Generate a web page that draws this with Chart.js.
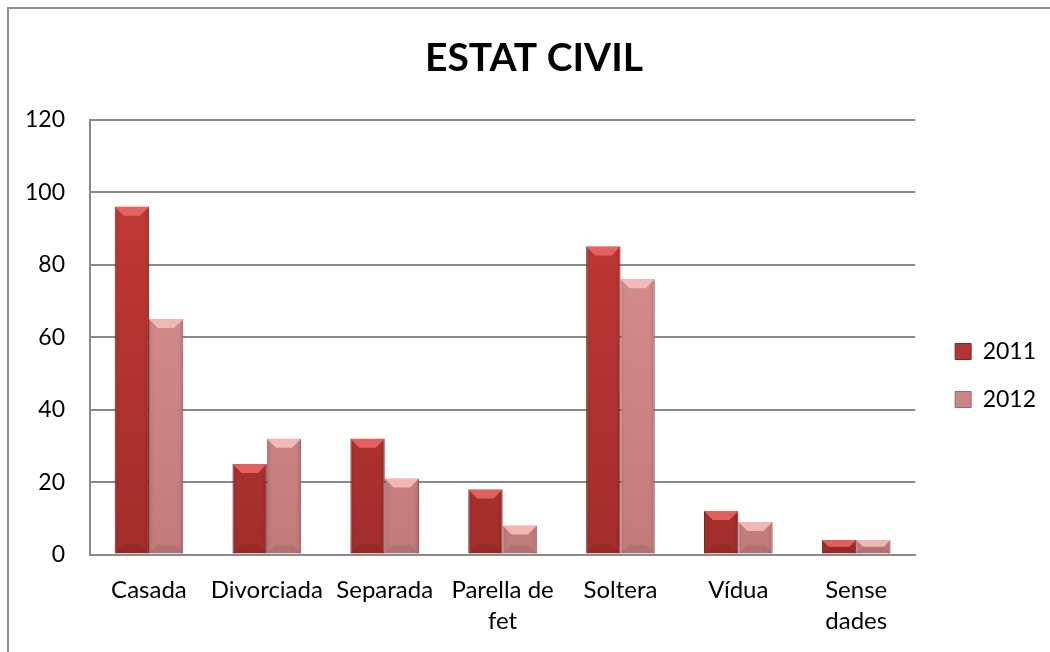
<!DOCTYPE html>
<html>
<head>
<meta charset="utf-8">
<script src="https://cdn.jsdelivr.net/npm/chart.js@4.4.1/dist/chart.umd.min.js"></script>
<style>
  html, body { margin: 0; padding: 0; background: #fff; overflow: hidden; }
  #frame { position: absolute; left: 7px; top: 7px; width: 1100px; height: 700px;
           border-left: 2px solid #8e8e8e; border-top: 2px solid #8e8e8e; }
  #wrap { position: absolute; left: 0; top: 0; width: 1050px; height: 652px; }
</style>
</head>
<body>
<div id="frame"></div>
<div id="wrap"><canvas id="chart"></canvas></div>
<script>
const categories = ['Casada', 'Divorciada', 'Separada', ['Parella de', 'fet'], 'Soltera', 'Vídua', ['Sense', 'dades']];
const values2011 = [96, 25, 32, 18, 85, 12, 4];
const values2012 = [65, 32, 21, 8, 76, 9, 4];
const seriesNames = ['2011', '2012'];
const yTicks = { min: 0, max: 120, step: 20 };

// body gradient (top -> bottom), bevel highlight, outline
const palette = [
  { top: '#c63b39', bottom: '#a22d2b', bevel: '#e86664', edge: '#822422' },
  { top: '#de9393', bottom: '#c27b7b', bevel: '#f5bebe', edge: '#a66767' }
];

function bodyFill(i) {
  return function (c) {
    const ca = c.chart.chartArea;
    if (!ca) return palette[i].top;
    const g = c.chart.ctx.createLinearGradient(0, ca.top, 0, ca.bottom);
    g.addColorStop(0, palette[i].top);
    g.addColorStop(1, palette[i].bottom);
    return g;
  };
}

// simple 3D look on top of each bar, positions taken from the bar elements
const bevel = {
  id: 'bevel',
  afterDatasetsDraw(chart) {
    const ctx = chart.ctx;
    chart.data.datasets.forEach((ds, di) => {
      chart.getDatasetMeta(di).data.forEach(bar => {
        const p = bar.getProps(['x', 'y', 'width', 'base'], true);
        const l = p.x - p.width / 2, r = p.x + p.width / 2, h = p.base - p.y;
        const b = Math.min(9, h / 2);
        ctx.save();
        const g = ctx.createLinearGradient(l, 0, r, 0);
        g.addColorStop(0, 'rgba(0,0,0,0.08)');
        g.addColorStop(0.15, 'rgba(0,0,0,0)');
        g.addColorStop(0.85, 'rgba(0,0,0,0)');
        g.addColorStop(1, 'rgba(0,0,0,0.12)');
        ctx.fillStyle = g;
        ctx.fillRect(l, p.y, p.width, h);
        ctx.beginPath();
        ctx.moveTo(l, p.y); ctx.lineTo(r, p.y);
        ctx.lineTo(r - b, p.y + b); ctx.lineTo(l + b, p.y + b);
        ctx.closePath();
        ctx.fillStyle = palette[di].bevel;
        ctx.globalAlpha = 0.9;
        ctx.fill();
        ctx.beginPath();
        ctx.moveTo(l, p.base); ctx.lineTo(r, p.base);
        ctx.lineTo(r - b, p.base - b); ctx.lineTo(l + b, p.base - b);
        ctx.closePath();
        ctx.fillStyle = 'rgba(0,0,0,0.08)';
        ctx.globalAlpha = 1;
        ctx.fill();
        ctx.restore();
      });
    });
  }
};

new Chart(document.getElementById('chart'), {
  type: 'bar',
  data: {
    labels: categories,
    datasets: [
      { label: seriesNames[0], data: values2011, backgroundColor: bodyFill(0), borderColor: palette[0].edge, borderWidth: 1 },
      { label: seriesNames[1], data: values2012, backgroundColor: bodyFill(1), borderColor: palette[1].edge, borderWidth: 1 }
    ]
  },
  options: {
    responsive: true,
    maintainAspectRatio: false,
    animation: false,
    datasets: { bar: { categoryPercentage: 0.582, barPercentage: 1 } },
    layout: { padding: { left: 22, right: 4, top: 0, bottom: -5 } },
    plugins: {
      title: {
        display: true,
        text: 'ESTAT CIVIL',
        color: '#000',
        font: { family: 'Lato', size: 39, weight: 'bold', lineHeight: 1.2 },
        padding: { top: 35, bottom: 38 }
      },
      legend: {
        position: 'right',
        title: { display: true, text: ' ', font: { size: 10, lineHeight: 1 }, padding: { top: 84, bottom: 0 } },
        labels: {
          boxWidth: 16, boxHeight: 16, padding: 25, color: '#000',
          font: { family: 'Lato', size: 23 }
        }
      },
      tooltip: { enabled: false }
    },
    scales: {
      x: {
        grid: { display: false, drawTicks: false },
        border: { display: true, color: '#8a8a8a', width: 2 },
        ticks: { color: '#000', padding: 20, font: { family: 'Lato', size: 24, lineHeight: 1.3 }, maxRotation: 0, autoSkip: false }
      },
      y: {
        min: yTicks.min, max: yTicks.max,
        grid: { color: '#8a8a8a', lineWidth: 2, drawTicks: false },
        border: { display: true, color: '#8a8a8a', width: 2 },
        ticks: { stepSize: yTicks.step, color: '#000', padding: 25, font: { family: 'Lato', size: 23 } },
        afterFit(s) { s.width = 68; }
      },
      gap: {
        position: 'right', display: true,
        grid: { display: false, drawTicks: false },
        border: { display: false },
        ticks: { display: false },
        afterFit(s) { s.width = 15; }
      }
    }
  },
  plugins: [bevel]
});
</script>
</body>
</html>
